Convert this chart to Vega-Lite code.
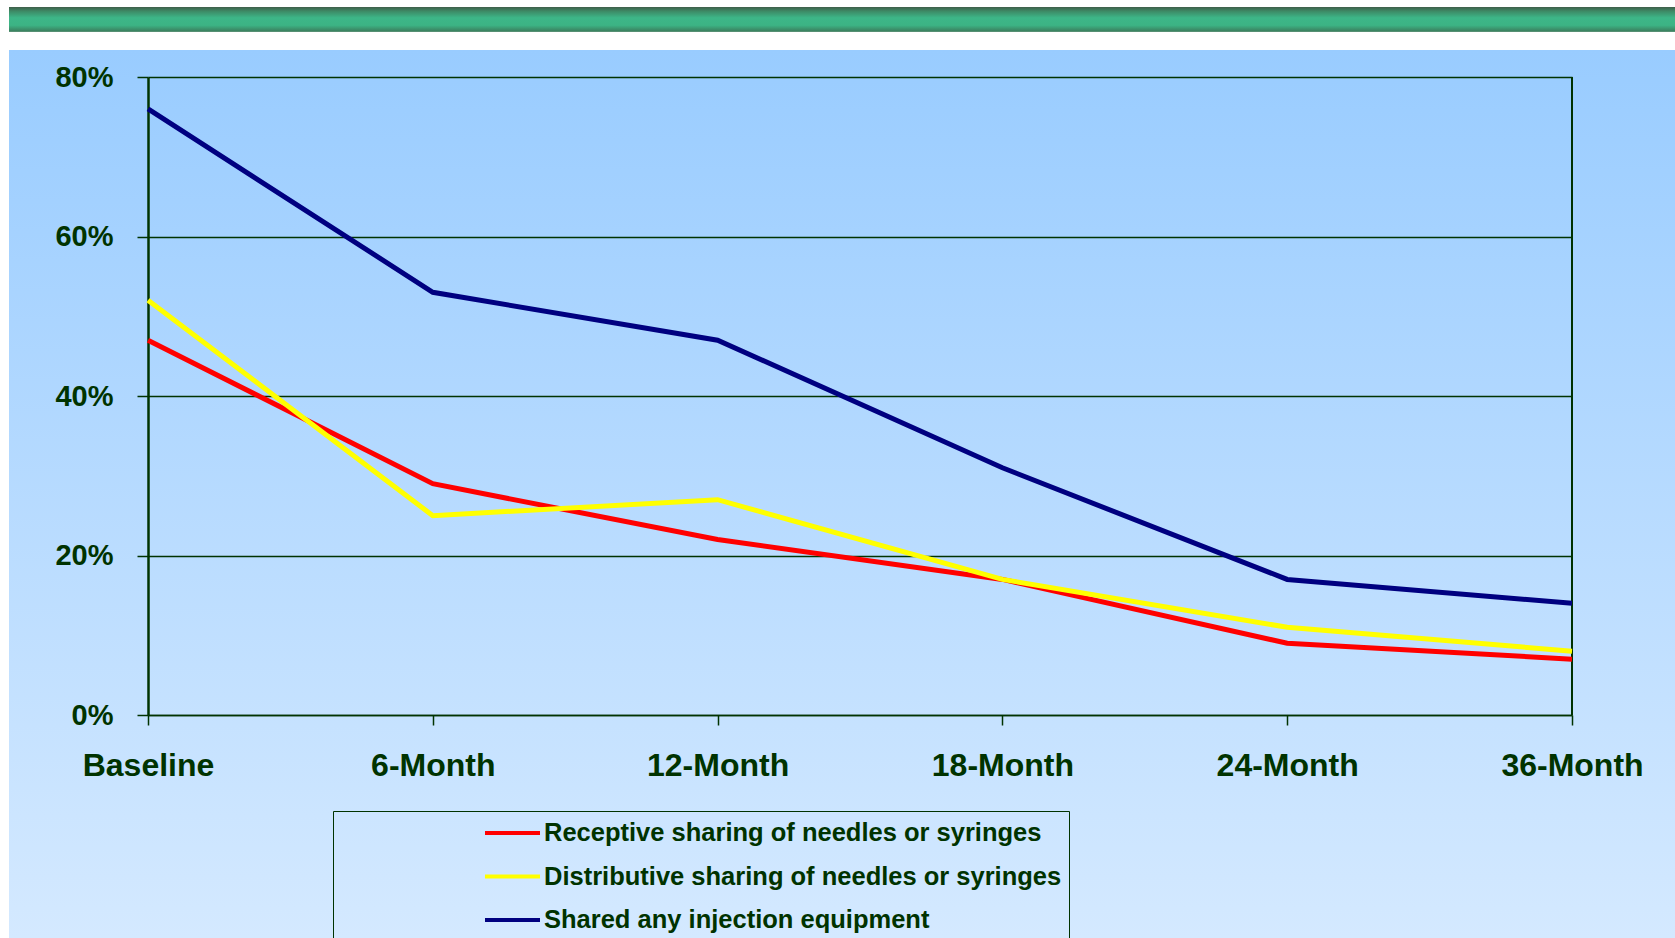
{
  "$schema": "https://vega.github.io/schema/vega-lite/v6.json",
  "autosize": "none",
  "width": 1666,
  "height": 938,
  "padding": {"left": 9, "top": 0, "right": 0, "bottom": 0},
  "background": "#ffffff",
  "config": {
    "font": "Liberation Sans",
    "view": {
      "stroke": null,
      "fill": {
        "gradient": "linear",
        "x1": 0, "y1": 0, "x2": 0, "y2": 1,
        "stops": [
          {"offset": 0, "color": "#ffffff"},
          {"offset": 0.0074, "color": "#ffffff"},
          {"offset": 0.0075, "color": "#3f5f4a"},
          {"offset": 0.012, "color": "#3d8a66"},
          {"offset": 0.019, "color": "#3db688"},
          {"offset": 0.027, "color": "#3cb384"},
          {"offset": 0.0335, "color": "#3b7d5d"},
          {"offset": 0.0341, "color": "#ffffff"},
          {"offset": 0.0532, "color": "#ffffff"},
          {"offset": 0.0533, "color": "#99ccff"},
          {"offset": 1, "color": "#d4e9ff"}
        ]
      }
    }
  },
  "datasets": {
    "series": [
      {"time": "Baseline", "measure": "Receptive sharing of needles or syringes", "value": 0.47},
      {"time": "6-Month", "measure": "Receptive sharing of needles or syringes", "value": 0.29},
      {"time": "12-Month", "measure": "Receptive sharing of needles or syringes", "value": 0.22},
      {"time": "18-Month", "measure": "Receptive sharing of needles or syringes", "value": 0.17},
      {"time": "24-Month", "measure": "Receptive sharing of needles or syringes", "value": 0.09},
      {"time": "36-Month", "measure": "Receptive sharing of needles or syringes", "value": 0.07},
      {"time": "Baseline", "measure": "Distributive sharing of needles or syringes", "value": 0.52},
      {"time": "6-Month", "measure": "Distributive sharing of needles or syringes", "value": 0.25},
      {"time": "12-Month", "measure": "Distributive sharing of needles or syringes", "value": 0.27},
      {"time": "18-Month", "measure": "Distributive sharing of needles or syringes", "value": 0.17},
      {"time": "24-Month", "measure": "Distributive sharing of needles or syringes", "value": 0.11},
      {"time": "36-Month", "measure": "Distributive sharing of needles or syringes", "value": 0.08},
      {"time": "Baseline", "measure": "Shared any injection equipment", "value": 0.76},
      {"time": "6-Month", "measure": "Shared any injection equipment", "value": 0.53},
      {"time": "12-Month", "measure": "Shared any injection equipment", "value": 0.47},
      {"time": "18-Month", "measure": "Shared any injection equipment", "value": 0.31},
      {"time": "24-Month", "measure": "Shared any injection equipment", "value": 0.17},
      {"time": "36-Month", "measure": "Shared any injection equipment", "value": 0.14}
    ]
  },
  "data": {"name": "series"},
  "layer": [
    {
      "mark": {"type": "rule", "color": "#003300", "strokeWidth": 1.5},
      "encoding": {
        "x": {"datum": "36-Month", "type": "ordinal"},
        "y": {"datum": 0, "type": "quantitative"},
        "y2": {"datum": 0.8}
      }
    },
    {
      "mark": {"type": "line", "strokeWidth": 5, "clip": false},
      "encoding": {
        "x": {
          "field": "time",
          "type": "ordinal",
          "sort": ["Baseline", "6-Month", "12-Month", "18-Month", "24-Month", "36-Month"],
          "scale": {
            "type": "point",
            "domain": ["Baseline", "6-Month", "12-Month", "18-Month", "24-Month", "36-Month"],
            "range": [139, 1563],
            "padding": 0
          },
          "axis": {
            "title": null,
            "orient": "bottom",
            "offset": -223,
            "domainColor": "#003300",
            "domainWidth": 1.5,
            "tickColor": "#003300",
            "tickWidth": 1.5,
            "tickSize": 10,
            "labelAngle": 0,
            "labelAlign": "center",
            "labelFlush": false,
            "labelBound": false,
            "labelFont": "Liberation Sans",
            "labelFontSize": 32,
            "labelFontWeight": "bold",
            "labelColor": "#003300",
            "labelPadding": 40,
            "labelOverlap": false,
            "grid": false
          }
        },
        "y": {
          "field": "value",
          "type": "quantitative",
          "scale": {"domain": [0, 0.8], "range": [715, 77], "nice": false, "zero": true},
          "axis": {
            "title": null,
            "orient": "left",
            "offset": -139,
            "values": [0, 0.2, 0.4, 0.6, 0.8],
            "format": ".0%",
            "domainColor": "#003300",
            "domainWidth": 2.5,
            "tickColor": "#003300",
            "tickWidth": 1.5,
            "tickSize": 11,
            "labelFont": "Liberation Sans",
            "labelFontSize": 29,
            "labelFontWeight": "bold",
            "labelColor": "#003300",
            "labelPadding": 24,
            "grid": true,
            "gridColor": "#003300",
            "gridWidth": 1.5,
            "gridOpacity": 1
          }
        },
        "color": {
          "field": "measure",
          "type": "nominal",
          "scale": {
            "domain": ["Receptive sharing of needles or syringes", "Distributive sharing of needles or syringes", "Shared any injection equipment"],
            "range": ["#ff0000", "#ffff00", "#000080"]
          },
          "legend": {
            "title": null,
            "orient": "none",
            "legendX": 324,
            "legendY": 811,
            "padding": 7,
            "strokeColor": "#003300",
            "fillColor": null,
            "symbolType": "stroke",
            "symbolSize": 3025,
            "symbolStrokeWidth": 4,
            "symbolOffset": 143,
            "labelOffset": 2,
            "labelFont": "Liberation Sans",
            "labelFontSize": 25.5,
            "labelFontWeight": "bold",
            "labelColor": "#003300",
            "labelLimit": 900,
            "clipHeight": 30,
            "rowPadding": 13.5
          }
        }
      }
    }
  ]
}
